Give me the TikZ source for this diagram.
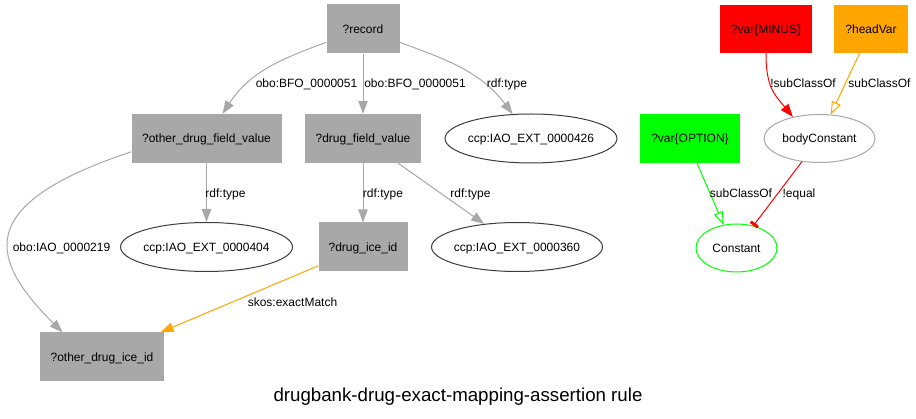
\documentclass[tikz,border=0pt]{standalone}
\usepackage{fontspec}
\setmainfont{Liberation Sans}
\usetikzlibrary{shapes.geometric,arrows.meta}
\definecolor{boxgray}{HTML}{A8A8A8}
\definecolor{edgegray}{HTML}{A8A8A8}
\definecolor{ellline}{HTML}{3C3C3C}
\definecolor{gvred}{HTML}{FF0000}
\definecolor{gvorange}{HTML}{FFA500}
\definecolor{gvgreen}{HTML}{00FF00}
\begin{document}
\begin{tikzpicture}[x=1pt,y=1pt,
  every node/.style={font=\fontsize{12}{14}\selectfont, inner sep=0pt, text height=8.6pt, text depth=0pt},
  gbox/.style={rectangle, fill=boxgray, minimum height=49pt},
  ell/.style={ellipse, draw=ellline, line width=1pt, minimum height=49pt},
  garr/.style={draw=edgegray, line width=1pt, -{Triangle[length=13pt,width=9.5pt]}},
  oarr/.style={draw=gvorange, line width=1pt, -{Triangle[length=13pt,width=9.5pt]}},
  redarr/.style={draw=gvred, line width=1pt, -{Triangle[length=13pt,width=9.5pt]}},
  openorange/.style={draw=gvorange, line width=1pt, -{Triangle[open,length=13pt,width=9.5pt]}},
  opengreen/.style={draw=gvgreen, line width=1pt, -{Triangle[open,length=13pt,width=9.5pt]}},
  teered/.style={draw=gvred, line width=1pt, -{Bar[width=9pt,line width=3pt]}}
]
\useasboundingbox[fill=white] (0,0) rectangle (916,-419);

% nodes
\node[gbox, minimum width=73pt] (record) at (363,-29) {?record};
\node[gbox, minimum width=150pt] (odfv) at (206.5,-138.5) {?other\_drug\_field\_value};
\node[gbox, minimum width=116pt] (dfv) at (363,-138.5) {?drug\_field\_value};
\node[ell, minimum width=172pt] (e426) at (531,-138.5) {\makebox[0pt]{ccp:IAO\_EXT\_0000426}};
\node[ell, minimum width=172pt] (e404) at (206.5,-247) {\makebox[0pt]{ccp:IAO\_EXT\_0000404}};
\node[gbox, minimum width=89pt] (dice) at (363,-247) {?drug\_ice\_id};
\node[ell, minimum width=171pt] (e360) at (517,-247) {\makebox[0pt]{ccp:IAO\_EXT\_0000360}};
\node[gbox, minimum width=124pt] (odice) at (102,-357) {?other\_drug\_ice\_id};
\node[gbox, fill=gvred, minimum width=92pt, minimum height=48pt] (minus) at (766,-29) {?var\{MINUS\}};
\node[gbox, fill=gvorange, minimum width=74pt, minimum height=48pt] (headvar) at (871,-29) {?headVar};
\node[gbox, fill=gvgreen, minimum width=100pt] (option) at (690,-138.5) {?var\{OPTION\}};
\node[ell, draw=edgegray, minimum width=111pt, minimum height=48pt] (bc) at (819.5,-138.5) {\makebox[0pt]{bodyConstant}};
\node[ell, draw=gvgreen, minimum width=81pt, minimum height=48pt] (const) at (736.5,-248) {\makebox[0pt]{Constant}};

% edges
\draw[garr] (record) to[out=200,in=57] (odfv);
\draw[garr] (record) -- (dfv);
\draw[garr] (record) to[out=-20,in=127] (e426);
\draw[garr] (odfv) -- (e404);
\draw[garr] (odfv.190) .. controls (-29,-205) and (-10,-260) .. (odice.148);
\draw[garr] (dfv) -- (dice);
\draw[garr] (dfv) -- (e360);
\draw[oarr] (dice) -- (odice);
\draw[redarr] (minus.south) .. controls +(0,-35) and +(-18,22) .. (bc.141);
\draw[openorange] (headvar) -- (bc);
\draw[opengreen] ([xshift=7pt]option.south) -- (const.119);
\draw[teered] (bc) -- (const);

% labels
\node (l1) at (306.5,-83) {obo:BFO\_0000051};
\node (l2) at (415,-83) {obo:BFO\_0000051};
\node (l3) at (507,-83) {rdf:type};
\node (l4) at (225.5,-193) {rdf:type};
\node (l5) at (383,-193) {rdf:type};
\node (l6) at (470.5,-193) {rdf:type};
\node (l7) at (61.5,-247.4) {obo:IAO\_0000219};
\node (l8) at (292.5,-302.4) {skos:exactMatch};
\node (l9) at (803,-83) {!subClassOf};
\node (l10) at (879.5,-83) {subClassOf};
\node (l11) at (741,-193) {subClassOf};
\node (l12) at (799,-193) {!equal};
\node[font=\fontsize{18.7}{22}\selectfont, text height=13.4pt] (title) at (458,-395.3) {drugbank-drug-exact-mapping-assertion rule};
\end{tikzpicture}
\end{document}
